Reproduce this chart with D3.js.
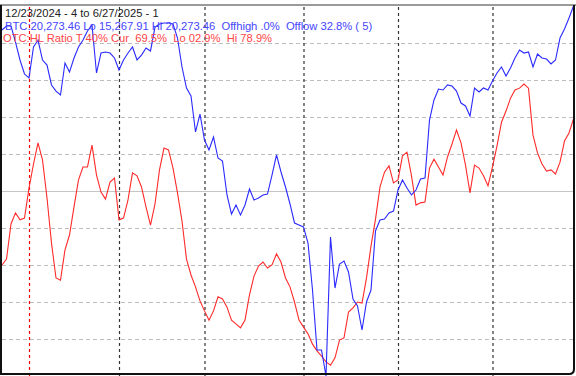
<!DOCTYPE html>
<html>
<head>
<meta charset="utf-8">
<script src="https://cdn.jsdelivr.net/npm/d3@7"></script>
<style>
  body { margin: 0; background: #fff; }
  svg { display: block; font-family: "Liberation Sans", Arial, sans-serif; }
  .hdr { font-size: 11.2px; white-space: pre; }
</style>
</head>
<body>
<div id="chart"></div>
<script>
const width = 576, height = 376;

// BTC closes, one per trading day, 12/23/2024 .. 6/27/2025
const btc = [
  19949, 20003, 20003, 19786, 19543, 19353, 19299, 19719, 19813, 19543,
  19475, 19205, 19123, 19069, 19502, 19380, 19570, 19719, 19813, 19935,
  20016, 19367, 19637, 19651, 19637, 19570, 19408, 19543, 19637, 19719,
  19543, 19610, 19705, 19665, 19989, 20030, 20043, 20043, 20030, 19840,
  19448, 19164, 19056, 18569, 18812, 18461, 18325, 18501, 18217, 18176,
  17717, 17459, 17581, 17446, 17581, 17798, 17649, 17676, 17717, 17730,
  17987, 18258, 18028, 17825, 17595, 17338, 17311, 17284, 17067, 16431,
  15620, 15620, 15267.91, 17148, 16458, 16783, 16824, 16675, 16310, 16215,
  15890, 16269, 16431, 17230, 17378, 17392, 17473, 17500, 17784, 17919,
  17811, 17717, 17784, 17933, 17946, 18731, 19002, 19150, 19137, 19205,
  19191, 19123, 18961, 18921, 18785, 19164, 19110, 19164, 19137, 19259,
  19367, 19448, 19326, 19435, 19570, 19678, 19637, 19651, 19448, 19624,
  19570, 19556, 19489, 19543, 19840, 19962, 20111, 20273.46
];

// OTC high/low ratio, percent
const otcRatio = [
  30.0, 31.6, 41.1, 44.1, 42.2, 42.7, 50.8, 57.3, 63.0, 58.4,
  48.1, 35.9, 26.5, 25.9, 34.1, 38.1, 45.7, 53.0, 56.5, 56.5,
  62.4, 54.3, 49.7, 47.8, 52.4, 53.5, 42.2, 42.7, 47.6, 54.9,
  54.1, 51.1, 45.7, 40.8, 46.5, 55.7, 61.6, 61.1, 56.2, 49.5,
  41.9, 31.6, 27.3, 24.1, 20.3, 17.6, 15.1, 17.6, 21.4, 20.8,
  18.6, 15.1, 14.1, 13.0, 15.1, 21.9, 27.0, 29.7, 30.8, 29.2,
  30.0, 33.0, 30.8, 26.5, 24.1, 20.0, 15.1, 13.2, 11.4, 8.6,
  6.8, 5.4, 3.8, 2.9, 4.9, 9.7, 10.3, 17.3, 18.4, 20.0,
  19.7, 26.5, 35.1, 42.4, 51.1, 55.1, 56.8, 52.2, 53.0, 59.5,
  60.5, 54.1, 46.2, 46.8, 47.0, 56.2, 58.6, 56.5, 54.3, 59.2,
  62.7, 66.5, 63.0, 57.0, 49.5, 57.0, 56.2, 54.1, 51.4, 56.5,
  62.2, 68.6, 71.6, 75.1, 77.3, 77.8, 78.9, 77.8, 65.1, 60.3,
  57.3, 55.4, 55.7, 54.6, 57.8, 63.5, 65.7, 69.5
];

// first trading day of each month (index into the series)
const monthStarts = [26, 45, 67, 88, 109];
const yearStart = [6];
const gridPct = [10, 20, 30, 40, 60, 70, 80, 90];

const plot = { left: 2, right: 573.5, top: 6, bottom: 376 };

const svg = d3.select("#chart")
    .append("svg")
    .attr("width", width)
    .attr("height", height);

const xScale = d3.scaleLinear()
    .domain([0, btc.length - 1])
    .range([plot.left, plot.right]);

const yScale = d3.scaleLinear()
    .domain([0, 100])
    .range([plot.bottom, plot.top]);

const btcLo = d3.min(btc), btcHi = d3.max(btc);
const yScaleBtc = d3.scaleLinear()
    .domain([btcLo, btcHi])
    .range([plot.bottom, plot.top]);

//horizontal grid
const gridY = svg.append("g")
    .attr("transform", `translate(${plot.left}, 0)`)
    .call(d3.axisRight(yScale).tickValues(gridPct).tickSize(plot.right - plot.left).tickFormat(""));
gridY.select(".domain").remove();
gridY.selectAll("line")
    .attr("stroke", "#bdbdbd")
    .attr("stroke-dasharray", "4,3");

const midY = svg.append("g")
    .attr("transform", `translate(${plot.left}, 0)`)
    .call(d3.axisRight(yScale).tickValues([50]).tickSize(plot.right - plot.left).tickFormat(""));
midY.select(".domain").remove();
midY.selectAll("line").attr("stroke", "#c4c4c4").attr("stroke-width", 1.2);

//vertical month lines
const drawVLines = (values, color) => {
    const g = svg.append("g")
        .attr("transform", `translate(0, ${plot.bottom})`)
        .call(d3.axisBottom(xScale).tickValues(values).tickSize(-(plot.bottom - plot.top)).tickFormat(""));
    g.select(".domain").remove();
    g.selectAll("line")
        .attr("stroke", color)
        .attr("stroke-width", 1.2)
        .attr("stroke-dasharray", "3,3");
};
drawVLines(monthStarts, "#333");
drawVLines(yearStart, "#ff0000");

//series
const lineRatio = d3.line()
    .x((d, i) => xScale(i))
    .y(d => yScale(d));
const lineBtc = d3.line()
    .x((d, i) => xScale(i))
    .y(d => yScaleBtc(d));

svg.append("path")
    .datum(otcRatio)
    .attr("fill", "none")
    .attr("stroke", "#ff2a2a")
    .attr("stroke-width", 1.1)
    .attr("d", lineRatio);

svg.append("path")
    .datum(btc)
    .attr("fill", "none")
    .attr("stroke", "#2a2aff")
    .attr("stroke-width", 1.1)
    .attr("d", lineBtc);

//header text
const last = btc[btc.length - 1];
const fmt = d3.format(",.2f");
const offHigh = d3.format(".1f")((1 - last / btcHi) * 100).replace(/^0\./, ".");
const offLow = d3.format(".1f")((last / btcLo - 1) * 100);
const rLo = d3.min(otcRatio), rHi = d3.max(otcRatio), rCur = otcRatio[otcRatio.length - 1];

svg.append("text").attr("class", "hdr")
    .attr("x", 5).attr("y", 17)
    .attr("fill", "#222")
    .text("12/23/2024 - 4 to 6/27/2025 - 1");
svg.append("text").attr("class", "hdr")
    .attr("x", 5).attr("y", 30)
    .attr("fill", "#4646ff")
    .text(`BTC:${fmt(last)} Lo ${fmt(btcLo)} Hi ${fmt(btcHi)}  Offhigh ${offHigh}%  Offlow ${offLow}% ( 5)`);
svg.append("text").attr("class", "hdr")
    .attr("x", 3).attr("y", 42)
    .attr("fill", "#ff4646")
    .text(`OTC:HL Ratio T 40% Cur  ${d3.format(".1f")(rCur)}%  Lo ${d3.format("04.1f")(rLo)}%  Hi ${d3.format(".1f")(rHi)}%`);

//frame
svg.append("line")
    .attr("x1", 0).attr("x2", width)
    .attr("y1", 5).attr("y2", 5)
    .attr("stroke", "#9a9a9a").attr("stroke-width", 2);
svg.append("path")
    .attr("fill", "none")
    .attr("stroke", "#111")
    .attr("stroke-width", 2)
    .attr("d", `M1,5 V374 H569 Q574,374 574,369 V5`);
</script>
</body>
</html>
